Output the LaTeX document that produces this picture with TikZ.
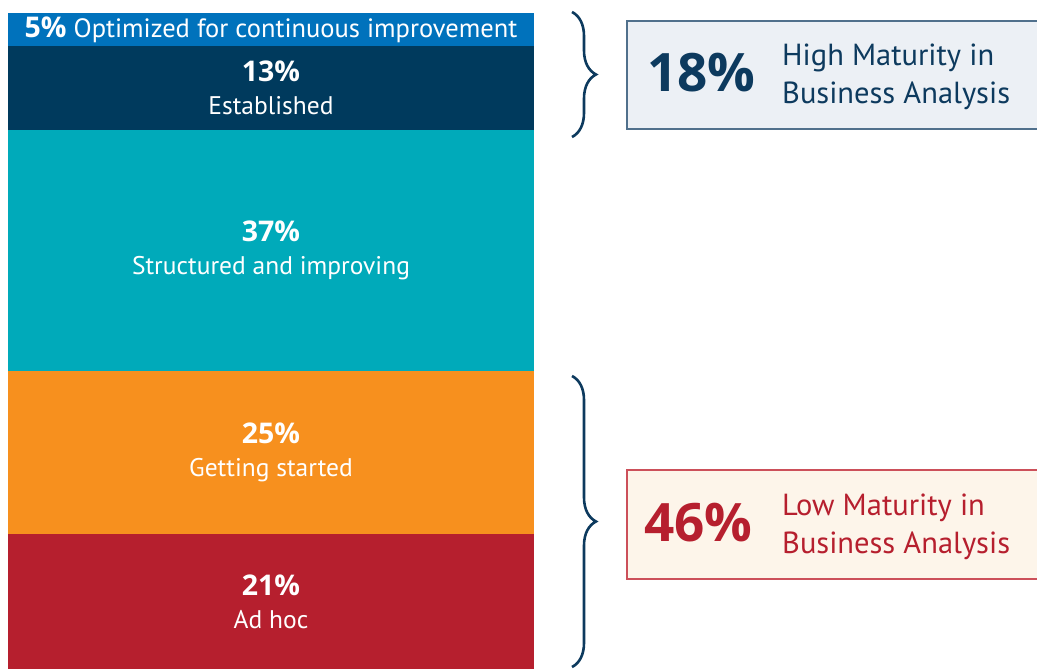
\documentclass[tikz,border=0pt]{standalone}
\usepackage{fontspec}
\setmainfont{PT Sans}
\newfontfamily\numfont{Open Sans}[BoldFont={* Bold}]
\usetikzlibrary{decorations.pathreplacing}
\definecolor{cBlue}{RGB}{0,114,188}
\definecolor{cNavy}{RGB}{0,58,93}
\definecolor{cTeal}{RGB}{0,170,186}
\definecolor{cOrange}{RGB}{247,144,30}
\definecolor{cRed}{RGB}{182,31,46}
\definecolor{tNavy}{RGB}{13,58,94}
\definecolor{hiFill}{RGB}{236,240,245}
\definecolor{hiLine}{RGB}{80,112,140}
\definecolor{loFill}{RGB}{253,245,234}
\definecolor{loLine}{RGB}{204,80,90}
\tikzset{
  seg/.style={draw=none, inner sep=0pt, minimum width=526pt, text=white, align=center, font=\fontsize{25.5}{33}\selectfont},
  bracecon/.style={draw=tNavy, line width=2.6pt, decorate, decoration={brace, amplitude=24pt}},
  bignum/.style={inner sep=0pt, anchor=west, font=\numfont\bfseries\fontsize{53}{60}\selectfont},
  boxtext/.style={inner sep=0pt, anchor=west, align=left, font=\fontsize{30.5}{38}\selectfont},
}
\newcommand{\pn}[1]{{\numfont\bfseries\fontsize{28.5}{33}\selectfont #1}}
\begin{document}
\begin{tikzpicture}[x=1pt,y=-1pt]
\useasboundingbox (0,0) rectangle (1037,669);
\begin{scope}
\clip (0,0) rectangle (1037,669);
% bar segments
\node[seg, fill=cBlue, minimum height=33pt, font=\fontsize{26.5}{33}\selectfont] (s5) at (271,29.5) {\raisebox{-1pt}{\pn{5\%}}\ \raisebox{-1pt}{Optimized for continuous improvement}};
\node[seg, fill=cNavy, minimum height=84pt] (s13) at (271,88) {\pn{13\%}\\Established};
\node[seg, fill=cTeal, minimum height=241pt] (s37) at (271,250.5) {\pn{37\%}\\Structured and improving};
\node[seg, fill=cOrange, minimum height=163pt] (s25) at (271,452.5) {\pn{25\%}\\Getting started};
\node[seg, fill=cRed, minimum height=135pt] (s21) at (271,601.5) {\pn{21\%}\\Ad hoc};
% boxes
\node[draw=hiLine, fill=hiFill, line width=1.8pt, inner sep=0pt, anchor=north west, minimum width=430pt, minimum height=108pt] (hi) at (626,20) {};
\node[draw=loLine, fill=loFill, line width=1.8pt, inner sep=0pt, anchor=north west, minimum width=430pt, minimum height=109pt] (lo) at (626,469) {};
\end{scope}
\node[bignum, text=tNavy] (hin) at (647,73) {18\%};
\node[boxtext, text=tNavy] (hit) at (782,77) {High Maturity in\\Business Analysis};
\node[bignum, text=cRed] (lon) at (644,523) {46\%};
\node[boxtext, text=cRed] (lot) at (782,527) {Low Maturity in\\Business Analysis};
% braces
\coordinate (b1t) at (572,12);
\coordinate (b1b) at (572,137);
\coordinate (b2t) at (572,376);
\coordinate (b2b) at (572,667);
\draw[bracecon] (b1t) -- (b1b);
\draw[bracecon] (b2t) -- (b2b);
\end{tikzpicture}
\end{document}
